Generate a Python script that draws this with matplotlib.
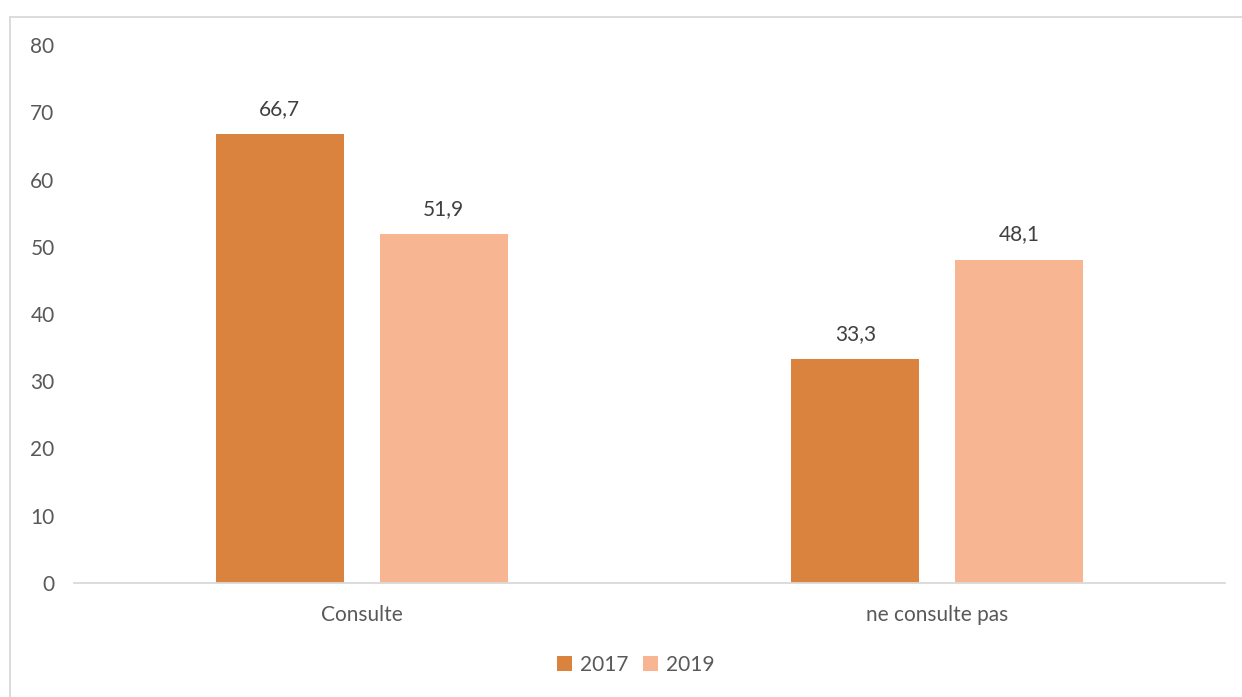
import numpy as np
import matplotlib.pyplot as plt
from matplotlib.patches import Rectangle

# data
categories = ["Consulte", "ne consulte pas"]
years = ["2017", "2019"]
values_2017 = [66.7, 33.3]
values_2019 = [51.9, 48.1]

colors = ["#DA833E", "#F8B592"]
text_col = "#595959"
fs = 15

plt.rcParams['font.family'] = ['Lato', 'DejaVu Sans']

fig = plt.figure(figsize=(12.42, 6.97), dpi=100)
ax = fig.add_axes([74 / 1242, (697 - 583) / 697, (1225 - 74) / 1242, (583 - 45) / 697])

x = np.arange(len(categories))
w = 0.2224
off = 0.1425
b1 = ax.bar(x - off, values_2017, w, color=colors[0], label=years[0])
b2 = ax.bar(x + off, values_2019, w, color=colors[1], label=years[1])

for bars, vals in [(b1, values_2017), (b2, values_2019)]:
    for r, v in zip(bars, vals):
        ax.annotate(f"{v:.1f}".replace(".", ","), (r.get_x() + r.get_width() / 2, v),
                    xytext=(0, 11), textcoords="offset points", ha="center", va="bottom",
                    fontsize=fs, color="#404040")

ax.set_xlim(-0.5, 1.5)
ax.set_ylim(0, 80)
ax.set_yticks(range(0, 81, 10))
ax.set_xticks(x)
ax.set_xticklabels(categories)
ax.tick_params(axis="both", length=0, labelsize=fs, colors=text_col)
ax.tick_params(axis="y", pad=14)
ax.tick_params(axis="x", pad=16)
for s in ["top", "right", "left"]:
    ax.spines[s].set_visible(False)
ax.spines["bottom"].set_color("#D9D9D9")
ax.spines["bottom"].set_linewidth(1.3)

leg = fig.legend(loc="center", bbox_to_anchor=(636 / 1242, 1 - 665 / 697), ncol=2, frameon=False,
                 fontsize=fs, handlelength=0.7, handleheight=0.7, handletextpad=0.4,
                 columnspacing=0.7, labelcolor=text_col)

# outer chart border
fig.patches.append(Rectangle((10 / 1242, -0.01), 1.02, (697 - 17) / 697 + 0.01,
                             transform=fig.transFigure, fill=False, edgecolor="#D9D9D9", linewidth=1.3))

fig.savefig("out.png", dpi=100)
